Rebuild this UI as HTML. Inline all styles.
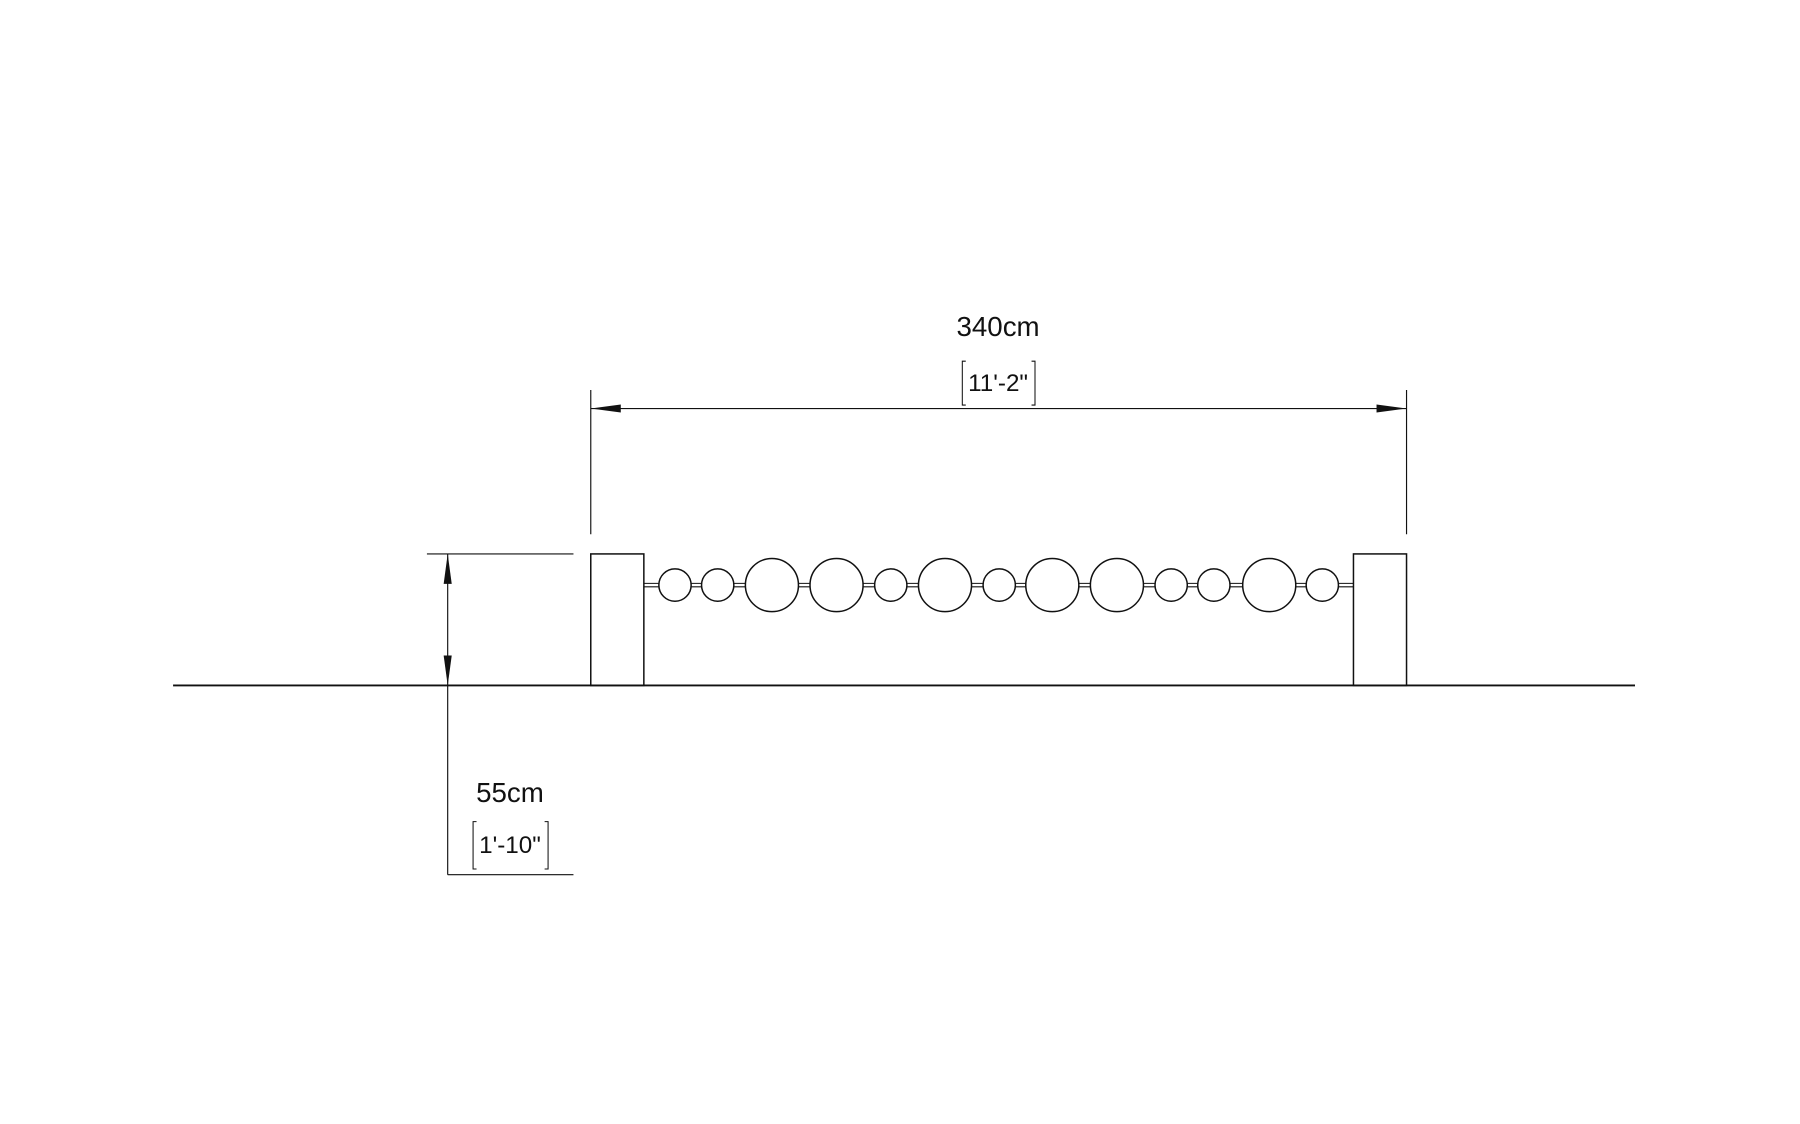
<!DOCTYPE html>
<html><head><style>html,body{margin:0;padding:0;background:#fff;}svg{display:block}</style></head>
<body>
<svg width="1800" height="1124" viewBox="0 0 1560 974" preserveAspectRatio="none" xmlns="http://www.w3.org/2000/svg">
<g stroke="#111" fill="none" stroke-width="1.3">
<line x1="150" y1="594" x2="1417" y2="594" stroke-width="1.6"/>
<rect x="512" y="480" width="46" height="114"/>
<rect x="1173" y="480" width="46" height="114"/>
<line x1="512" y1="338" x2="512" y2="463" stroke-width="1"/>
<line x1="1219" y1="338" x2="1219" y2="463" stroke-width="1"/>
<line x1="512" y1="354" x2="1219" y2="354" stroke-width="1"/>
<line x1="370" y1="480" x2="497" y2="480" stroke-width="1"/>
<line x1="388" y1="480" x2="388" y2="758" stroke-width="1"/>
<line x1="388" y1="758" x2="497" y2="758" stroke-width="1"/>
<path d="M837 313 h-3 v38 h3 M894 313 h3 v38 h-3" stroke-width="0.9"/>
<path d="M413 712 h-3 v41 h3 M472 712 h3 v41 h-3" stroke-width="0.9"/>
<line x1="558" y1="505.5" x2="1173" y2="505.5" stroke-width="0.9"/>
<line x1="558" y1="508.5" x2="1173" y2="508.5" stroke-width="0.9"/>
</g>
<g fill="#111">
<polygon points="512,354 538,350.5 538,357.5"/>
<polygon points="1219,354 1193,350.5 1193,357.5"/>
<polygon points="388,480 384.5,506 391.5,506"/>
<polygon points="388,594 384.5,568 391.5,568"/>
</g>
<g stroke="#111" fill="#fff" stroke-width="1.3">
<circle cx="585" cy="507" r="14"/>
<circle cx="622" cy="507" r="14"/>
<circle cx="669" cy="507" r="23"/>
<circle cx="725" cy="507" r="23"/>
<circle cx="772" cy="507" r="14"/>
<circle cx="819" cy="507" r="23"/>
<circle cx="866" cy="507" r="14"/>
<circle cx="912" cy="507" r="23"/>
<circle cx="968" cy="507" r="23"/>
<circle cx="1015" cy="507" r="14"/>
<circle cx="1052" cy="507" r="14"/>
<circle cx="1100" cy="507" r="23"/>
<circle cx="1146" cy="507" r="14"/>
</g>
<g font-family="Liberation Sans, sans-serif" fill="#111" text-anchor="middle">
<text x="865" y="291" font-size="24">340cm</text>
<text x="865" y="339" font-size="21">11'-2"</text>
<text x="442" y="695" font-size="24">55cm</text>
<text x="442" y="739" font-size="21">1'-10"</text>
</g>
</svg>
</body></html>
